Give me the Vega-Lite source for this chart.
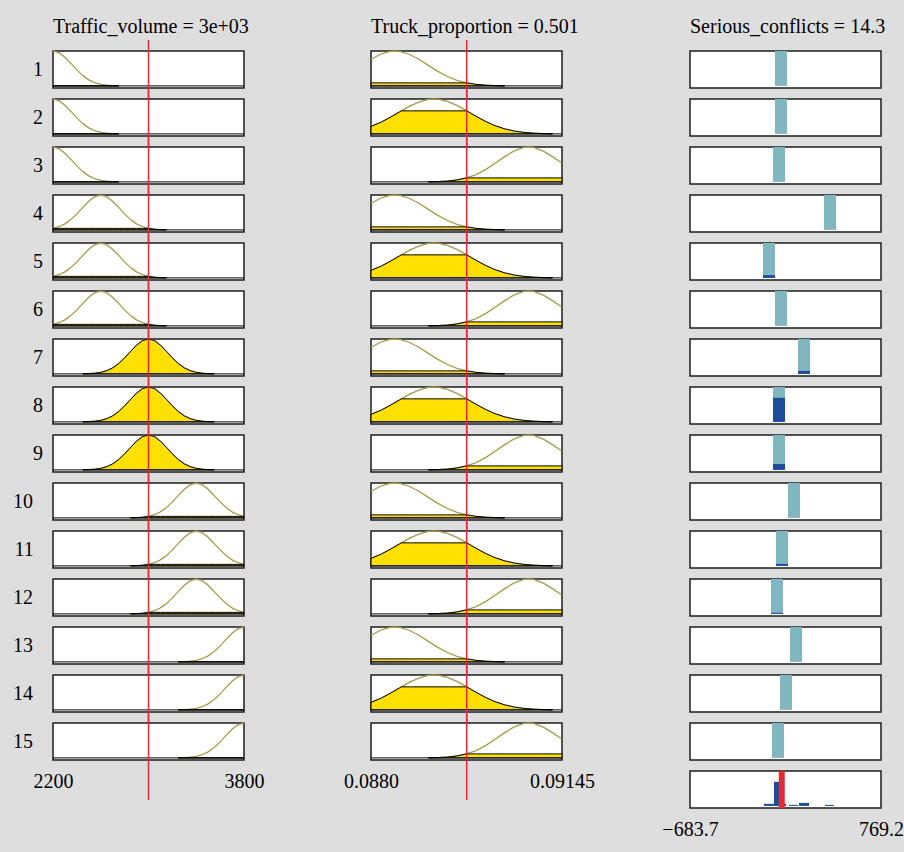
{
  "$schema": "https://vega.github.io/schema/vega-lite/v6.json",
  "background": "#dedede",
  "padding": {"left": 13, "top": 16, "right": 10, "bottom": 30},
  "config": {
    "font": "Liberation Serif",
    "view": {"stroke": "#1c1c1c", "strokeWidth": 1.5, "fill": "white"},
    "title": {"fontSize": 20, "fontWeight": "normal", "color": "black", "offset": 2, "frame": "group"},
    "axis": {"domain": false, "ticks": false, "grid": false, "labelFontSize": 20, "labelColor": "black", "labelFlush": false, "labelPadding": 11, "title": null},
    "header": {"labelFontSize": 20, "labelColor": "black"},
    "facet": {"spacing": 11}
  },
  "spacing": 66,
  "hconcat": [
    {
      "spacing": 79,
      "hconcat": [
        {
          "title": {"text": "Traffic_volume = 3e+03", "offset": 2},
          "data": {"values": [
            {"kind": "cursor", "x": 3000, "rules": [1,2,3,4,5,6,7,8,9,10,11,12,13,14,15]},
            {"kind": "mf", "x": 2200, "mf": 1, "fill": 0, "rules": [1,2,3]},
            {"kind": "mf", "x": 2250, "mf": 0.952, "fill": 0, "rules": [1,2,3]},
            {"kind": "mf", "x": 2300, "mf": 0.823, "fill": 0, "rules": [1,2,3]},
            {"kind": "mf", "x": 2350, "mf": 0.644, "fill": 0, "rules": [1,2,3]},
            {"kind": "mf", "x": 2400, "mf": 0.458, "fill": 0, "rules": [1,2,3]},
            {"kind": "mf", "x": 2450, "mf": 0.295, "fill": 0, "rules": [1,2,3]},
            {"kind": "mf", "x": 2500, "mf": 0.172, "fill": 0, "rules": [1,2,3]},
            {"kind": "mf", "x": 2550, "mf": 0.0914, "fill": 0, "rules": [1,2,3]},
            {"kind": "mf", "x": 2600, "mf": 0.0439, "fill": 0, "rules": [1,2,3]},
            {"kind": "mf", "x": 2650, "mf": 0.0192, "fill": 0, "rules": [1,2,3]},
            {"kind": "mf", "x": 2700, "mf": 0.0076, "fill": 0, "rules": [1,2,3]},
            {"kind": "mf", "x": 2750, "mf": 0.0027, "fill": 0, "rules": [1,2,3]},
            {"kind": "mf", "x": 2200, "mf": 0.0439, "fill": 0.0439, "rules": [4,5,6]},
            {"kind": "mf", "x": 2250, "mf": 0.0914, "fill": 0.0439, "rules": [4,5,6]},
            {"kind": "mf", "x": 2300, "mf": 0.172, "fill": 0.0439, "rules": [4,5,6]},
            {"kind": "mf", "x": 2350, "mf": 0.295, "fill": 0.0439, "rules": [4,5,6]},
            {"kind": "mf", "x": 2400, "mf": 0.458, "fill": 0.0439, "rules": [4,5,6]},
            {"kind": "mf", "x": 2450, "mf": 0.644, "fill": 0.0439, "rules": [4,5,6]},
            {"kind": "mf", "x": 2500, "mf": 0.823, "fill": 0.0439, "rules": [4,5,6]},
            {"kind": "mf", "x": 2550, "mf": 0.952, "fill": 0.0439, "rules": [4,5,6]},
            {"kind": "mf", "x": 2600, "mf": 1, "fill": 0.0439, "rules": [4,5,6]},
            {"kind": "mf", "x": 2650, "mf": 0.952, "fill": 0.0439, "rules": [4,5,6]},
            {"kind": "mf", "x": 2700, "mf": 0.823, "fill": 0.0439, "rules": [4,5,6]},
            {"kind": "mf", "x": 2750, "mf": 0.644, "fill": 0.0439, "rules": [4,5,6]},
            {"kind": "mf", "x": 2800, "mf": 0.458, "fill": 0.0439, "rules": [4,5,6]},
            {"kind": "mf", "x": 2850, "mf": 0.295, "fill": 0.0439, "rules": [4,5,6]},
            {"kind": "mf", "x": 2900, "mf": 0.172, "fill": 0.0439, "rules": [4,5,6]},
            {"kind": "mf", "x": 2950, "mf": 0.0914, "fill": 0.0439, "rules": [4,5,6]},
            {"kind": "mf", "x": 3000, "mf": 0.0439, "fill": 0.0439, "rules": [4,5,6]},
            {"kind": "mf", "x": 3050, "mf": 0.0192, "fill": 0.0192, "rules": [4,5,6]},
            {"kind": "mf", "x": 3100, "mf": 0.0076, "fill": 0.0076, "rules": [4,5,6]},
            {"kind": "mf", "x": 3150, "mf": 0.0027, "fill": 0.0027, "rules": [4,5,6]},
            {"kind": "mf", "x": 2450, "mf": 0.0027, "fill": 0.0027, "rules": [7,8,9]},
            {"kind": "mf", "x": 2500, "mf": 0.0076, "fill": 0.0076, "rules": [7,8,9]},
            {"kind": "mf", "x": 2550, "mf": 0.0192, "fill": 0.0192, "rules": [7,8,9]},
            {"kind": "mf", "x": 2600, "mf": 0.0439, "fill": 0.0439, "rules": [7,8,9]},
            {"kind": "mf", "x": 2650, "mf": 0.0914, "fill": 0.0914, "rules": [7,8,9]},
            {"kind": "mf", "x": 2700, "mf": 0.172, "fill": 0.172, "rules": [7,8,9]},
            {"kind": "mf", "x": 2750, "mf": 0.295, "fill": 0.295, "rules": [7,8,9]},
            {"kind": "mf", "x": 2800, "mf": 0.458, "fill": 0.458, "rules": [7,8,9]},
            {"kind": "mf", "x": 2850, "mf": 0.644, "fill": 0.644, "rules": [7,8,9]},
            {"kind": "mf", "x": 2900, "mf": 0.823, "fill": 0.823, "rules": [7,8,9]},
            {"kind": "mf", "x": 2950, "mf": 0.952, "fill": 0.952, "rules": [7,8,9]},
            {"kind": "mf", "x": 3000, "mf": 1, "fill": 1, "rules": [7,8,9]},
            {"kind": "mf", "x": 3050, "mf": 0.952, "fill": 0.952, "rules": [7,8,9]},
            {"kind": "mf", "x": 3100, "mf": 0.823, "fill": 0.823, "rules": [7,8,9]},
            {"kind": "mf", "x": 3150, "mf": 0.644, "fill": 0.644, "rules": [7,8,9]},
            {"kind": "mf", "x": 3200, "mf": 0.458, "fill": 0.458, "rules": [7,8,9]},
            {"kind": "mf", "x": 3250, "mf": 0.295, "fill": 0.295, "rules": [7,8,9]},
            {"kind": "mf", "x": 3300, "mf": 0.172, "fill": 0.172, "rules": [7,8,9]},
            {"kind": "mf", "x": 3350, "mf": 0.0914, "fill": 0.0914, "rules": [7,8,9]},
            {"kind": "mf", "x": 3400, "mf": 0.0439, "fill": 0.0439, "rules": [7,8,9]},
            {"kind": "mf", "x": 3450, "mf": 0.0192, "fill": 0.0192, "rules": [7,8,9]},
            {"kind": "mf", "x": 3500, "mf": 0.0076, "fill": 0.0076, "rules": [7,8,9]},
            {"kind": "mf", "x": 3550, "mf": 0.0027, "fill": 0.0027, "rules": [7,8,9]},
            {"kind": "mf", "x": 2850, "mf": 0.0027, "fill": 0.0027, "rules": [10,11,12]},
            {"kind": "mf", "x": 2900, "mf": 0.0076, "fill": 0.0076, "rules": [10,11,12]},
            {"kind": "mf", "x": 2950, "mf": 0.0192, "fill": 0.0192, "rules": [10,11,12]},
            {"kind": "mf", "x": 3000, "mf": 0.0439, "fill": 0.0439, "rules": [10,11,12]},
            {"kind": "mf", "x": 3050, "mf": 0.0914, "fill": 0.0439, "rules": [10,11,12]},
            {"kind": "mf", "x": 3100, "mf": 0.172, "fill": 0.0439, "rules": [10,11,12]},
            {"kind": "mf", "x": 3150, "mf": 0.295, "fill": 0.0439, "rules": [10,11,12]},
            {"kind": "mf", "x": 3200, "mf": 0.458, "fill": 0.0439, "rules": [10,11,12]},
            {"kind": "mf", "x": 3250, "mf": 0.644, "fill": 0.0439, "rules": [10,11,12]},
            {"kind": "mf", "x": 3300, "mf": 0.823, "fill": 0.0439, "rules": [10,11,12]},
            {"kind": "mf", "x": 3350, "mf": 0.952, "fill": 0.0439, "rules": [10,11,12]},
            {"kind": "mf", "x": 3400, "mf": 1, "fill": 0.0439, "rules": [10,11,12]},
            {"kind": "mf", "x": 3450, "mf": 0.952, "fill": 0.0439, "rules": [10,11,12]},
            {"kind": "mf", "x": 3500, "mf": 0.823, "fill": 0.0439, "rules": [10,11,12]},
            {"kind": "mf", "x": 3550, "mf": 0.644, "fill": 0.0439, "rules": [10,11,12]},
            {"kind": "mf", "x": 3600, "mf": 0.458, "fill": 0.0439, "rules": [10,11,12]},
            {"kind": "mf", "x": 3650, "mf": 0.295, "fill": 0.0439, "rules": [10,11,12]},
            {"kind": "mf", "x": 3700, "mf": 0.172, "fill": 0.0439, "rules": [10,11,12]},
            {"kind": "mf", "x": 3750, "mf": 0.0914, "fill": 0.0439, "rules": [10,11,12]},
            {"kind": "mf", "x": 3800, "mf": 0.0439, "fill": 0.0439, "rules": [10,11,12]},
            {"kind": "mf", "x": 3250, "mf": 0.0027, "fill": 0, "rules": [13,14,15]},
            {"kind": "mf", "x": 3300, "mf": 0.0076, "fill": 0, "rules": [13,14,15]},
            {"kind": "mf", "x": 3350, "mf": 0.0192, "fill": 0, "rules": [13,14,15]},
            {"kind": "mf", "x": 3400, "mf": 0.0439, "fill": 0, "rules": [13,14,15]},
            {"kind": "mf", "x": 3450, "mf": 0.0914, "fill": 0, "rules": [13,14,15]},
            {"kind": "mf", "x": 3500, "mf": 0.172, "fill": 0, "rules": [13,14,15]},
            {"kind": "mf", "x": 3550, "mf": 0.295, "fill": 0, "rules": [13,14,15]},
            {"kind": "mf", "x": 3600, "mf": 0.458, "fill": 0, "rules": [13,14,15]},
            {"kind": "mf", "x": 3650, "mf": 0.644, "fill": 0, "rules": [13,14,15]},
            {"kind": "mf", "x": 3700, "mf": 0.823, "fill": 0, "rules": [13,14,15]},
            {"kind": "mf", "x": 3750, "mf": 0.952, "fill": 0, "rules": [13,14,15]},
            {"kind": "mf", "x": 3800, "mf": 1, "fill": 0, "rules": [13,14,15]}
          ]},
          "transform": [{"flatten": ["rules"], "as": ["rule"]}],
          "facet": {"row": {"field": "rule", "type": "ordinal", "header": {"title": null, "labelAngle": 0, "labelAlign": "right", "labelBaseline": "middle", "labelPadding": 0}}},
          "bounds": "flush",
          "spacing": {"row": 11},
          "spec": {
            "width": 191,
            "height": 37,
            "layer": [
              {
                "transform": [{"filter": "datum.kind == 'mf'"}],
                "mark": {"type": "line", "color": "#a09b4e", "strokeWidth": 1.3},
                "encoding": {
                  "x": {"field": "x", "type": "quantitative", "scale": {"domain": [2200, 3800], "nice": false, "zero": false}, "axis": {"values": [2200, 3800], "format": "d"}},
                  "y": {"field": "mf", "type": "quantitative", "scale": {"domain": [-0.06, 1], "nice": false, "zero": false}, "axis": null}
                }
              },
              {
                "transform": [{"filter": "datum.kind == 'mf'"}],
                "mark": {"type": "area", "fill": "#ffe000", "stroke": "black", "strokeWidth": 1},
                "encoding": {
                  "x": {"field": "x", "type": "quantitative"},
                  "y": {"field": "fill", "type": "quantitative", "axis": null},
                  "y2": {"datum": 0}
                }
              },
              {
                "transform": [{"filter": "datum.kind == 'cursor'"}],
                "mark": {"type": "rule", "color": "black", "strokeWidth": 1},
                "encoding": {"y": {"datum": 0, "type": "quantitative", "axis": null}}
              },
              {
                "transform": [{"filter": "datum.kind == 'cursor'"}],
                "mark": {"type": "rule", "color": "#e62a33", "strokeWidth": 1.5},
                "encoding": {
                  "x": {"field": "x", "type": "quantitative"},
                  "y": {"datum": -1.206, "type": "quantitative", "axis": null},
                  "y2": {"datum": 1.315}
                }
              }
            ]
          }
        },
        {
          "title": {"text": "Truck_proportion = 0.501", "offset": 2},
          "data": {"values": [
            {"kind": "cursor", "x": 0.501, "rules": [1,2,3,4,5,6,7,8,9,10,11,12,13,14,15]},
            {"kind": "mf", "x": 0, "mf": 0.763, "fill": 0.0866, "rules": [1,4,7,10,13]},
            {"kind": "mf", "x": 0.05, "mf": 0.907, "fill": 0.0866, "rules": [1,4,7,10,13]},
            {"kind": "mf", "x": 0.1, "mf": 0.989, "fill": 0.0866, "rules": [1,4,7,10,13]},
            {"kind": "mf", "x": 0.125, "mf": 1, "fill": 0.0866, "rules": [1,4,7,10,13]},
            {"kind": "mf", "x": 0.15, "mf": 0.989, "fill": 0.0866, "rules": [1,4,7,10,13]},
            {"kind": "mf", "x": 0.2, "mf": 0.907, "fill": 0.0866, "rules": [1,4,7,10,13]},
            {"kind": "mf", "x": 0.25, "mf": 0.763, "fill": 0.0866, "rules": [1,4,7,10,13]},
            {"kind": "mf", "x": 0.3, "mf": 0.589, "fill": 0.0866, "rules": [1,4,7,10,13]},
            {"kind": "mf", "x": 0.35, "mf": 0.417, "fill": 0.0866, "rules": [1,4,7,10,13]},
            {"kind": "mf", "x": 0.4, "mf": 0.27, "fill": 0.0866, "rules": [1,4,7,10,13]},
            {"kind": "mf", "x": 0.45, "mf": 0.161, "fill": 0.0866, "rules": [1,4,7,10,13]},
            {"kind": "mf", "x": 0.501, "mf": 0.0866, "fill": 0.0866, "rules": [1,4,7,10,13]},
            {"kind": "mf", "x": 0.55, "mf": 0.0439, "fill": 0.0439, "rules": [1,4,7,10,13]},
            {"kind": "mf", "x": 0.6, "mf": 0.0202, "fill": 0.0202, "rules": [1,4,7,10,13]},
            {"kind": "mf", "x": 0.65, "mf": 0.0085, "fill": 0.0085, "rules": [1,4,7,10,13]},
            {"kind": "mf", "x": 0.7, "mf": 0.0033, "fill": 0.0033, "rules": [1,4,7,10,13]},
            {"kind": "mf", "x": 0, "mf": 0.213, "fill": 0.213, "rules": [2,5,8,11,14]},
            {"kind": "mf", "x": 0.05, "mf": 0.328, "fill": 0.328, "rules": [2,5,8,11,14]},
            {"kind": "mf", "x": 0.1, "mf": 0.472, "fill": 0.472, "rules": [2,5,8,11,14]},
            {"kind": "mf", "x": 0.15, "mf": 0.631, "fill": 0.631, "rules": [2,5,8,11,14]},
            {"kind": "mf", "x": 0.159, "mf": 0.66, "fill": 0.66, "rules": [2,5,8,11,14]},
            {"kind": "mf", "x": 0.2, "mf": 0.787, "fill": 0.66, "rules": [2,5,8,11,14]},
            {"kind": "mf", "x": 0.25, "mf": 0.913, "fill": 0.66, "rules": [2,5,8,11,14]},
            {"kind": "mf", "x": 0.3, "mf": 0.987, "fill": 0.66, "rules": [2,5,8,11,14]},
            {"kind": "mf", "x": 0.33, "mf": 1, "fill": 0.66, "rules": [2,5,8,11,14]},
            {"kind": "mf", "x": 0.35, "mf": 0.994, "fill": 0.66, "rules": [2,5,8,11,14]},
            {"kind": "mf", "x": 0.4, "mf": 0.933, "fill": 0.66, "rules": [2,5,8,11,14]},
            {"kind": "mf", "x": 0.45, "mf": 0.815, "fill": 0.66, "rules": [2,5,8,11,14]},
            {"kind": "mf", "x": 0.501, "mf": 0.66, "fill": 0.66, "rules": [2,5,8,11,14]},
            {"kind": "mf", "x": 0.55, "mf": 0.503, "fill": 0.503, "rules": [2,5,8,11,14]},
            {"kind": "mf", "x": 0.6, "mf": 0.355, "fill": 0.355, "rules": [2,5,8,11,14]},
            {"kind": "mf", "x": 0.65, "mf": 0.2335, "fill": 0.2335, "rules": [2,5,8,11,14]},
            {"kind": "mf", "x": 0.7, "mf": 0.143, "fill": 0.143, "rules": [2,5,8,11,14]},
            {"kind": "mf", "x": 0.75, "mf": 0.0816, "fill": 0.0816, "rules": [2,5,8,11,14]},
            {"kind": "mf", "x": 0.8, "mf": 0.0434, "fill": 0.0434, "rules": [2,5,8,11,14]},
            {"kind": "mf", "x": 0.85, "mf": 0.0215, "fill": 0.0215, "rules": [2,5,8,11,14]},
            {"kind": "mf", "x": 0.9, "mf": 0.0099, "fill": 0.0099, "rules": [2,5,8,11,14]},
            {"kind": "mf", "x": 0.95, "mf": 0.0042, "fill": 0.0042, "rules": [2,5,8,11,14]},
            {"kind": "mf", "x": 0.3, "mf": 0.0034, "fill": 0.0034, "rules": [3,6,9,12,15]},
            {"kind": "mf", "x": 0.35, "mf": 0.0095, "fill": 0.0095, "rules": [3,6,9,12,15]},
            {"kind": "mf", "x": 0.4, "mf": 0.0241, "fill": 0.0241, "rules": [3,6,9,12,15]},
            {"kind": "mf", "x": 0.45, "mf": 0.055, "fill": 0.055, "rules": [3,6,9,12,15]},
            {"kind": "mf", "x": 0.501, "mf": 0.1148, "fill": 0.1148, "rules": [3,6,9,12,15]},
            {"kind": "mf", "x": 0.55, "mf": 0.21, "fill": 0.1148, "rules": [3,6,9,12,15]},
            {"kind": "mf", "x": 0.6, "mf": 0.352, "fill": 0.1148, "rules": [3,6,9,12,15]},
            {"kind": "mf", "x": 0.65, "mf": 0.532, "fill": 0.1148, "rules": [3,6,9,12,15]},
            {"kind": "mf", "x": 0.7, "mf": 0.725, "fill": 0.1148, "rules": [3,6,9,12,15]},
            {"kind": "mf", "x": 0.75, "mf": 0.89, "fill": 0.1148, "rules": [3,6,9,12,15]},
            {"kind": "mf", "x": 0.8, "mf": 0.987, "fill": 0.1148, "rules": [3,6,9,12,15]},
            {"kind": "mf", "x": 0.825, "mf": 1, "fill": 0.1148, "rules": [3,6,9,12,15]},
            {"kind": "mf", "x": 0.85, "mf": 0.987, "fill": 0.1148, "rules": [3,6,9,12,15]},
            {"kind": "mf", "x": 0.9, "mf": 0.89, "fill": 0.1148, "rules": [3,6,9,12,15]},
            {"kind": "mf", "x": 0.95, "mf": 0.725, "fill": 0.1148, "rules": [3,6,9,12,15]},
            {"kind": "mf", "x": 1, "mf": 0.532, "fill": 0.1148, "rules": [3,6,9,12,15]}
          ]},
          "transform": [{"flatten": ["rules"], "as": ["rule"]}],
          "facet": {"row": {"field": "rule", "type": "ordinal", "header": {"title": null, "labels": false}}},
          "bounds": "flush",
          "spacing": {"row": 11},
          "spec": {
            "width": 191,
            "height": 37,
            "layer": [
              {
                "transform": [{"filter": "datum.kind == 'mf'"}],
                "mark": {"type": "line", "color": "#a09b4e", "strokeWidth": 1.3},
                "encoding": {
                  "x": {"field": "x", "type": "quantitative", "scale": {"domain": [0, 1], "nice": false, "zero": false}, "axis": {"values": [0, 1], "labelExpr": "datum.value < 0.5 ? '0.0880' : '0.09145'"}},
                  "y": {"field": "mf", "type": "quantitative", "scale": {"domain": [-0.06, 1], "nice": false, "zero": false}, "axis": null}
                }
              },
              {
                "transform": [{"filter": "datum.kind == 'mf'"}],
                "mark": {"type": "area", "fill": "#ffe000", "stroke": "black", "strokeWidth": 1},
                "encoding": {
                  "x": {"field": "x", "type": "quantitative"},
                  "y": {"field": "fill", "type": "quantitative", "axis": null},
                  "y2": {"datum": 0}
                }
              },
              {
                "transform": [{"filter": "datum.kind == 'cursor'"}],
                "mark": {"type": "rule", "color": "black", "strokeWidth": 1},
                "encoding": {"y": {"datum": 0, "type": "quantitative", "axis": null}}
              },
              {
                "transform": [{"filter": "datum.kind == 'cursor'"}],
                "mark": {"type": "rule", "color": "#e62a33", "strokeWidth": 1.5},
                "encoding": {
                  "x": {"field": "x", "type": "quantitative"},
                  "y": {"datum": -1.206, "type": "quantitative", "axis": null},
                  "y2": {"datum": 1.315}
                }
              }
            ]
          }
        }
      ]
    },
    {
      "title": {"text": "Serious_conflicts = 14.3", "offset": 13},
      "data": {"values": [
        {"kind": "out", "rule": 1, "lo": -37.1, "hi": 54.2, "w": 0},
        {"kind": "out", "rule": 2, "lo": -37.1, "hi": 54.2, "w": 0},
        {"kind": "out", "rule": 3, "lo": -52.3, "hi": 39.0, "w": 0},
        {"kind": "out", "rule": 4, "lo": 335.6, "hi": 426.9, "w": 0},
        {"kind": "out", "rule": 5, "lo": -128.4, "hi": -37.1, "w": 0.08},
        {"kind": "out", "rule": 6, "lo": -37.1, "hi": 54.2, "w": 0},
        {"kind": "out", "rule": 7, "lo": 137.9, "hi": 229.1, "w": 0.086},
        {"kind": "out", "rule": 8, "lo": -52.3, "hi": 39.0, "w": 0.69},
        {"kind": "out", "rule": 9, "lo": -52.3, "hi": 39.0, "w": 0.17},
        {"kind": "out", "rule": 10, "lo": 61.8, "hi": 153.1, "w": 0},
        {"kind": "out", "rule": 11, "lo": -29.5, "hi": 61.8, "w": 0.057},
        {"kind": "out", "rule": 12, "lo": -67.5, "hi": 23.8, "w": 0.03},
        {"kind": "out", "rule": 13, "lo": 77.0, "hi": 168.3, "w": 0},
        {"kind": "out", "rule": 14, "lo": 0.9, "hi": 92.2, "w": 0},
        {"kind": "out", "rule": 15, "lo": -59.9, "hi": 31.4, "w": 0},
        {"kind": "agg", "rule": 16, "lo": -120.8, "hi": 46.6, "w": 0.06},
        {"kind": "agg", "rule": 16, "lo": -44.7, "hi": 31.4, "w": 0.69},
        {"kind": "agg", "rule": 16, "lo": 69.4, "hi": 137.9, "w": 0.03},
        {"kind": "agg", "rule": 16, "lo": 145.5, "hi": 221.5, "w": 0.086},
        {"kind": "agg", "rule": 16, "lo": 343.2, "hi": 411.7, "w": 0.03},
        {"kind": "crisp", "rule": 16, "lo": 14.3, "hi": 14.3, "w": 0}
      ]},
      "facet": {"row": {"field": "rule", "type": "ordinal", "header": {"title": null, "labels": false}}},
      "bounds": "flush",
      "spacing": {"row": 11},
      "spec": {
        "width": 191,
        "height": 37,
        "layer": [
          {
            "transform": [{"filter": "datum.kind == 'out'"}],
            "mark": {"type": "rect", "color": "#7fb6bf"},
            "encoding": {
              "x": {"field": "lo", "type": "quantitative", "scale": {"domain": [-683.7, 769.2], "nice": false, "zero": false}, "axis": {"values": [-683.7, 769.2], "labelExpr": "datum.value < 0 ? '\u2212683.7' : '769.2'"}},
              "x2": {"field": "hi"},
              "y": {"datum": 1, "type": "quantitative", "scale": {"domain": [-0.06, 1], "nice": false, "zero": false}, "axis": null},
              "y2": {"datum": 0}
            }
          },
          {
            "transform": [{"filter": "datum.w > 0"}],
            "mark": {"type": "rect", "color": "#1f4b9b"},
            "encoding": {
              "x": {"field": "lo", "type": "quantitative"},
              "x2": {"field": "hi"},
              "y": {"field": "w", "type": "quantitative", "axis": null},
              "y2": {"datum": 0}
            }
          },
          {
            "transform": [{"filter": "datum.kind == 'crisp'"}],
            "mark": {"type": "rule", "color": "#e62a33", "strokeWidth": 6},
            "encoding": {
              "x": {"field": "lo", "type": "quantitative"}
            }
          }
        ]
      }
    }
  ]
}
